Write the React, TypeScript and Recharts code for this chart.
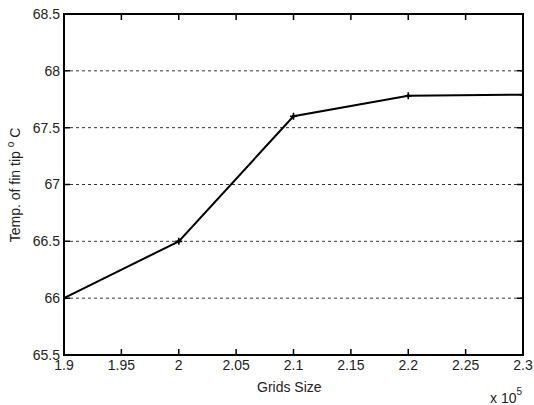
import { LineChart, Line, XAxis, YAxis, CartesianGrid, Label, ReferenceArea } from 'recharts';

const gridSizes = [1.9, 2.0, 2.1, 2.2, 2.3];
const tipTemps = [66.0, 66.5, 67.6, 67.78, 67.79];
const xTicks = [1.9, 1.95, 2, 2.05, 2.1, 2.15, 2.2, 2.25, 2.3];
const yTicks = [65.5, 66, 66.5, 67, 67.5, 68, 68.5];

const data = gridSizes.map((g, i) => ({ grid: g, temp: tipTemps[i] }));

const W = 534;
const H = 405;
const margin = { top: 14, right: 11, bottom: 20, left: 10 };
const xAxisH = 30;
const yAxisW = 54;
const plotW = W - margin.left - margin.right - yAxisW;
const plotH = H - margin.top - margin.bottom - xAxisH;

const font = 'Liberation Sans, Arial, sans-serif';
const textColor = '#222';
const TICK = 6;

const PlusDot = (props: any) => {
  const { cx, cy } = props;
  if (cx == null || cy == null) return null;
  return (
    <g>
      <path d={`M${cx - 3.5},${cy}H${cx + 3.5}M${cx},${cy - 3.5}V${cy + 3.5}`} stroke="#000" strokeWidth={1.6} />
      <circle cx={cx} cy={cy} r={1.8} fill="#000" />
    </g>
  );
};

// inward tick marks on all four sides, MATLAB style
const BottomTick = (props: any) => {
  const { x, y, payload } = props;
  return (
    <g>
      <path
        d={`M${x},${y}V${y - TICK}M${x},${y - plotH}V${y - plotH + TICK}`}
        stroke="#000"
        strokeWidth={1.5}
        fill="none"
      />
      <text x={x} y={y + 5} dy="0.71em" textAnchor="middle" fontFamily={font} fontSize={14} fill={textColor}>
        {String(payload.value)}
      </text>
    </g>
  );
};
const LeftTick = (props: any) => {
  const { x, y, payload } = props;
  return (
    <g>
      <path
        d={`M${x},${y}H${x + TICK}M${x + plotW},${y}H${x + plotW - TICK}`}
        stroke="#000"
        strokeWidth={1.5}
        fill="none"
      />
      <text x={x - 4} y={y} dy="0.35em" textAnchor="end" fontFamily={font} fontSize={14} fill={textColor}>
        {String(payload.value)}
      </text>
    </g>
  );
};

const YTitle = () => (
  <text transform="translate(20,185) rotate(-90)" textAnchor="middle" fontFamily={font} fontSize={14} fill={textColor}>
    Temp. of fin tip <tspan dy={-6} fontSize={10}>o</tspan>
    <tspan dy={6}> C</tspan>
  </text>
);

export default function App() {
  return (
    <div style={{ position: 'absolute', left: 0, top: 0, background: '#fff' }}>
      <LineChart width={W} height={H} data={data} margin={margin}>
        <CartesianGrid xAxisId="bottom" yAxisId="left" horizontal vertical={false} stroke="#000" strokeDasharray="3 3" strokeWidth={0.8} />
        <ReferenceArea
          xAxisId="bottom"
          yAxisId="left"
          x1={1.9}
          x2={2.3}
          y1={65.5}
          y2={68.5}
          fill="transparent"
          fillOpacity={0}
          stroke="#000"
          strokeWidth={2}
          ifOverflow="visible"
        />
        <XAxis
          xAxisId="bottom"
          dataKey="grid"
          type="number"
          domain={[1.9, 2.3]}
          ticks={xTicks}
          allowDataOverflow
          height={xAxisH}
          tickSize={0}
          tickMargin={0}
          tickLine={false}
          axisLine={false}
          tick={<BottomTick />}
          interval={0}
        />
        <YAxis
          yAxisId="left"
          type="number"
          domain={[65.5, 68.5]}
          ticks={yTicks}
          width={yAxisW}
          tickSize={0}
          tickMargin={0}
          tickLine={false}
          axisLine={false}
          tick={<LeftTick />}
          interval={0}
        >
          <Label content={YTitle} />
        </YAxis>
        <Line
          xAxisId="bottom"
          yAxisId="left"
          type="linear"
          dataKey="temp"
          stroke="#000"
          strokeWidth={2}
          dot={<PlusDot />}
          isAnimationActive={false}
        />
      </LineChart>
      <div style={{ position: 'absolute', left: 257, top: 379, fontFamily: font, fontSize: 14, color: textColor }}>Grids Size</div>
      <div style={{ position: 'absolute', left: 490, top: 390, fontFamily: font, fontSize: 14, color: textColor, whiteSpace: 'nowrap' }}>
        x 10<span style={{ fontSize: 10, position: 'relative', top: -8 }}>5</span>
      </div>
    </div>
  );
}
